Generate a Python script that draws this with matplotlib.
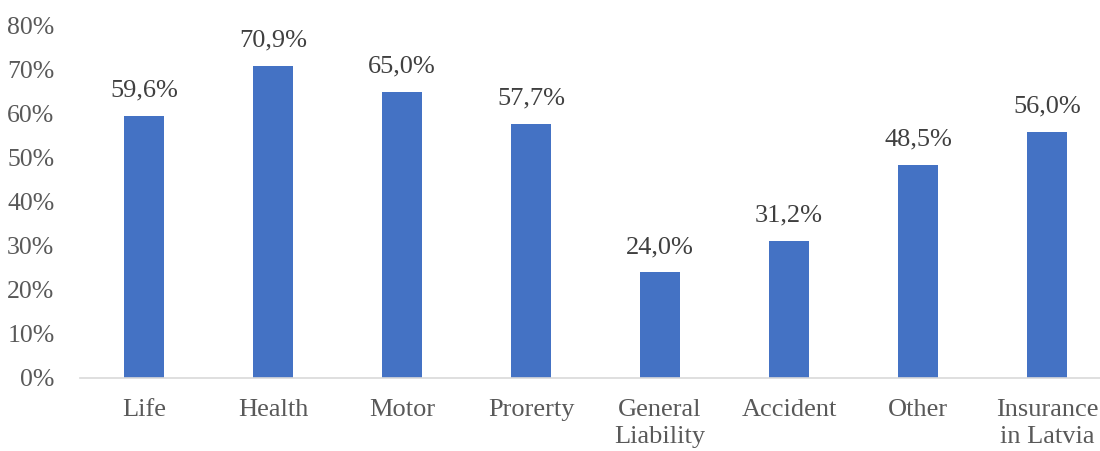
import numpy as np
import matplotlib.pyplot as plt

categories = ["Life", "Health", "Motor", "Prorerty", "General\nLiability",
              "Accident", "Other", "Insurance\nin Latvia"]
values = [59.6, 70.9, 65.0, 57.7, 24.0, 31.2, 48.5, 56.0]
yticks = [0, 10, 20, 30, 40, 50, 60, 70, 80]

plt.rcParams['font.family'] = ['Liberation Serif', 'DejaVu Serif']

fig = plt.figure(figsize=(11, 4.51), dpi=100)
ax = fig.add_axes([79.5 / 1100, 73 / 451, 1032 / 1100, 352 / 451])

x = np.arange(len(categories))
ax.bar(x, values, width=0.31, color="#4472C4", zorder=2)
for xi, v in zip(x, values):
    label = f"{v:.1f}%".replace(".", ",")
    ax.annotate(label, (xi, v), xytext=(0, 14), textcoords="offset points",
                ha="center", va="baseline", fontsize=19, color="#404040")

ax.set_xlim(-0.5, len(categories) - 0.5)
ax.set_ylim(0, 80)
ax.set_yticks(yticks)
ax.set_yticklabels([f"{t}%" for t in yticks], fontsize=18.5, color="#595959")
ax.set_xticks(x)
ax.set_xticklabels(categories, fontsize=19, color="#595959", linespacing=1.3)
ax.tick_params(axis="both", length=0)
ax.tick_params(axis="x", pad=15)
ax.tick_params(axis="y", pad=18)

for s in ["top", "right", "left"]:
    ax.spines[s].set_visible(False)
ax.spines["bottom"].set_color("#D9D9D9")
ax.spines["bottom"].set_linewidth(1.2)

fig.savefig("out.png", dpi=100)
